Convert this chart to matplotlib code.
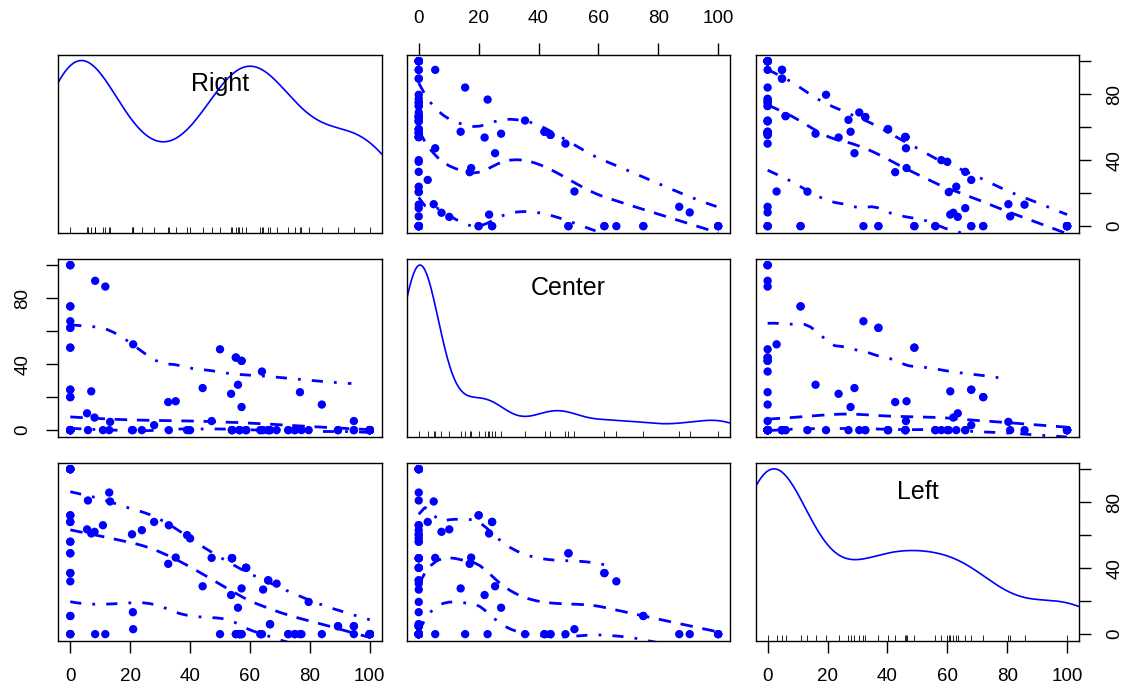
import numpy as np
import matplotlib
matplotlib.use("Agg")
import matplotlib.pyplot as plt
from matplotlib.transforms import blended_transform_factory

plt.rcParams['font.family'] = ['Liberation Sans', 'DejaVu Sans']

# vote shares; counts = stacked duplicates (estimated
# from the density curves, overlapping points are not visible in the scatter)
names = ['Right', 'Center', 'Left']
right = [0, 8.3, 11.7, 0, 0, 0, 0, 21, 50, 55.3, 57.2, 64, 0, 0, 7, 44.2, 56, 53.7,
         76.7, 84, 32.7, 35.2, 57.2, 5.6, 8.1, 13.3, 28, 47.2, 94.7, 89.4, 94.7, 100,
         0, 5.9, 10.9, 13, 20.6, 20.9, 23.9, 32.9, 39, 40, 0, 54, 58.7, 66.1, 64.4,
         79.6, 66.7, 72.8, 75, 77.2, 68.9, 56.5, 63.5]
center = [100, 90.5, 87, 75, 66, 62, 50, 52, 49, 44, 42, 35.5, 24.5, 20, 23.5, 25.5,
          27.5, 22, 23, 15.5, 17, 17.5, 14, 10.2, 7.6, 5, 3, 5.5, 5.5, 0, 0, 0,
          0, 0, 0, 0, 0, 0, 0, 0, 0, 0, 0, 0, 0, 0, 0,
          0, 0, 0, 0, 0, 0, 0, 0]
left = [0, 0, 0, 11, 32, 37, 49, 3, 0, 0, 0, 0, 68, 72, 61, 29, 16, 23.7,
        0, 0, 42.6, 46.4, 27.7, 63.5, 62, 80.4, 68, 46.2, 0, 4.8, 4.8, 0,
        100, 81, 66, 85.8, 60.5, 13.3, 63, 66, 60, 58, 56, 46, 40.2, 32.6, 27,
        19.5, 6, 0, 0, 0, 30.6, 0, 0]
counts = [3, 1, 1, 2, 1, 2, 2, 1, 1, 2, 2, 1, 2, 2, 1, 1, 1, 1,
          1, 1, 1, 1, 1, 1, 1, 1, 1, 1, 1, 2, 2, 10,
          7, 1, 1, 1, 1, 1, 1, 1, 1, 1, 2, 4, 3, 2, 1,
          1, 2, 2, 2, 1, 1, 3, 2]

tick_vals = [0, 20, 40, 60, 80, 100]
x_labels = ['0', '20', '40', '60', '80', '100']
y_labels = ['0', '', '40', '', '80', '']

BLUE = '#0000FF'


def local_fit(x, y, rw, x0, span, degree):
    # one weighted local regression, returns value and slope at x0
    q = int(np.floor(len(x) * span))
    d = np.abs(x - x0)
    h = max(np.sort(d)[q - 1], 1e-9)
    w = np.where(d < h, (1 - (d / h) ** 3) ** 3, 0.0) * rw
    if w.sum() <= 0:
        return np.nan, 0.0
    ym = np.sum(w * y) / w.sum()
    if degree == 0:
        return ym, 0.0
    xm = np.sum(w * x) / w.sum()
    sxx = np.sum(w * (x - xm) ** 2)
    if sxx < 1e-12:
        return ym, 0.0
    b = np.sum(w * (x - xm) * (y - ym)) / sxx
    return ym + b * (x0 - xm), b


def kd_vertices(x, fc):
    lo, hi = x.min(), x.max()
    mu = 0.005 * max(hi - lo, 1e-10)
    verts = {lo - mu, hi + mu}

    def split(pts, a, b):
        n = len(pts)
        if n <= fc:
            return
        s = np.sort(pts)
        m = (n + 1) // 2 - 1
        off = 0
        while 0 <= m + off < n - 1:
            if s[m + off] == s[m + off + 1]:
                off = -off
                if off >= 0:
                    off += 1
            else:
                m = m + off
                break
        v = s[m]
        if v == a or v == b:
            return
        verts.add(v)
        split(s[:m + 1], a, v)
        split(s[m + 1:], v, b)

    split(x, lo - mu, hi + mu)
    return np.array(sorted(verts))


def hermite(xe, verts, vals, slopes):
    out = np.full(len(xe), np.nan)
    for k, x0 in enumerate(xe):
        idx = np.searchsorted(verts, x0) - 1
        idx = min(max(idx, 0), len(verts) - 2)
        a, b = verts[idx], verts[idx + 1]
        hh = b - a
        t = (x0 - a) / hh
        out[k] = ((1 - t) ** 2 * (1 + 2 * t) * vals[idx] + t ** 2 * (3 - 2 * t) * vals[idx + 1]
                  + (t * (1 - t) ** 2 * slopes[idx] - t ** 2 * (1 - t) * slopes[idx + 1]) * hh)
    return out


def loess(x, y, x_eval, span=2 / 3, degree=1, iterations=4):
    verts = kd_vertices(x, int(np.floor(len(x) * span * 0.2)))
    rw = np.ones(len(x))
    res = np.zeros(len(x))
    vals = slopes = None
    for it in range(iterations):
        fits = [local_fit(x, y, rw, v, span, degree) for v in verts]
        vals = np.array([f[0] for f in fits])
        slopes = np.array([f[1] for f in fits])
        res = y - hermite(x, verts, vals, slopes)
        if it < iterations - 1:
            cmad = 6 * np.median(np.abs(res))
            if cmad < 1e-9:
                break
            r = np.abs(res) / cmad
            rw = np.where(r < 1, (1 - r ** 2) ** 2, 0.0)
    pred = hermite(x_eval, verts, vals, slopes)
    pred[(x_eval < x.min()) | (x_eval > x.max())] = np.nan
    return pred, res


def spread_fit(x, r2, x_eval):
    pred, _ = loess(x, r2, x_eval, degree=0, iterations=1)
    return np.sqrt(np.clip(pred, 0, None))


def density_curve(v):
    n = len(v)
    iqr = np.subtract(*np.percentile(v, [75, 25]))
    bw = 0.9 * min(np.std(v, ddof=1), iqr / 1.34) * n ** -0.2
    grid = np.linspace(v.min() - 3 * bw, v.max() + 3 * bw, 512)
    dens = np.exp(-0.5 * ((grid[:, None] - v[None, :]) / bw) ** 2).sum(1) / (n * bw * np.sqrt(2 * np.pi))
    return grid, v.min() + dens * (v.max() - v.min()) / (dens.max() - dens.min())


def padded(v):
    r = v.max() - v.min()
    return v.min() - 0.04 * r, v.max() + 0.04 * r


data = [np.repeat(np.array(v, float), counts) for v in (right, center, left)]

fig = plt.figure(figsize=(11.28, 6.92), dpi=100)
col_left = [0.0517, 0.3606, 0.6699]
row_bottom = [0.6637, 0.3689, 0.0741]
w, h = 0.2867, 0.2575

for i in range(3):
    for j in range(3):
        ax = fig.add_axes([col_left[j], row_bottom[i], w, h])
        xv = data[j]
        yv = data[i]
        ax.set_xlim(*padded(xv))
        ax.set_ylim(*padded(yv))

        if i == j:
            gx, gy = density_curve(xv)
            ax.plot(gx, gy, color=BLUE, lw=1.2)
            trans = blended_transform_factory(ax.transData, ax.transAxes)
            ax.vlines(np.unique(xv), 0, 0.03, transform=trans, color='black', lw=0.6)
            ax.text(0.5, 0.835, names[i], transform=ax.transAxes, ha='center',
                    va='center', fontsize=18)
        else:
            ax.scatter(xv, yv, s=36, color=BLUE, edgecolors='none', zorder=2)
            x_eval = np.linspace(xv.min(), xv.max(), 50)
            pred, res = loess(xv, yv, x_eval)
            pos = res > 0
            up = pred + spread_fit(xv[pos], res[pos] ** 2, x_eval)
            lo = pred - spread_fit(xv[~pos], res[~pos] ** 2, x_eval)
            ax.plot(x_eval, pred, color=BLUE, lw=2, linestyle=(0, (4.5, 3.5)), zorder=3)
            ax.plot(x_eval, up, color=BLUE, lw=2, linestyle=(0, (4, 4, 1, 4)), zorder=3)
            ax.plot(x_eval, lo, color=BLUE, lw=2, linestyle=(0, (4, 4, 1, 4)), zorder=3)

        ax.set_xticks(tick_vals)
        ax.set_xticklabels(x_labels)
        ax.set_yticks(tick_vals)
        ax.set_yticklabels(y_labels, rotation=90, va='center')
        ax.tick_params(bottom=False, top=False, left=False, right=False,
                       labelbottom=False, labeltop=False, labelleft=False, labelright=False)
        ax.tick_params(direction='out', length=8.5, width=1, pad=11, labelsize=13.5)
        if i == 2 and j % 2 == 0:
            ax.tick_params(bottom=True, labelbottom=True)
        if i == 0 and j % 2 == 1:
            ax.tick_params(top=True, labeltop=True)
        if j == 0 and i % 2 == 1:
            ax.tick_params(left=True, labelleft=True)
        if j == 2 and i % 2 == 0:
            ax.tick_params(right=True, labelright=True)
        for sp in ax.spines.values():
            sp.set_linewidth(1.0)

fig.savefig("out.png", dpi=100)
